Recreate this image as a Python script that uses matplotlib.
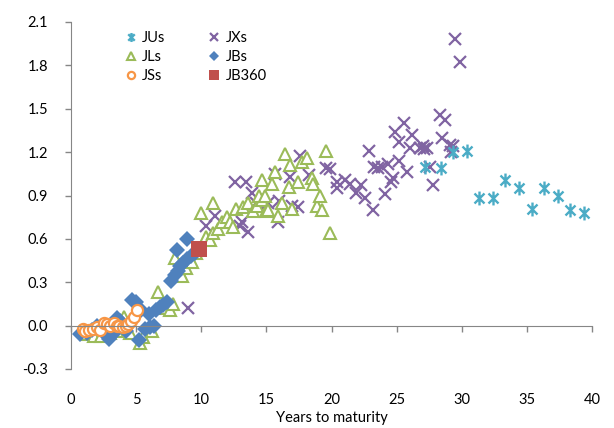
import matplotlib
matplotlib.use("Agg")
import matplotlib.pyplot as plt
from matplotlib.path import Path
import numpy as np

plt.rcParams['font.family'] = ['Lato', 'DejaVu Sans']

# ---- data ----
jus_x = [27.2, 28.4, 29.3, 30.4, 31.3, 32.4, 33.3, 34.4, 35.4, 36.3, 37.4, 38.3, 39.4]
jus_y = [1.10, 1.09, 1.20, 1.21, 0.88, 0.88, 1.01, 0.95, 0.81, 0.95, 0.90, 0.80, 0.78]

jxs_x = [9.0, 10.4, 11.05, 12.6, 13.4, 13.0, 13.6, 13.9, 13.1, 14.2, 15.1, 15.7, 15.9, 16.0,
         16.8, 17.0, 17.4, 17.6, 18.3, 19.6, 19.9, 20.4, 20.4, 21.0, 21.4, 21.9, 22.3, 22.6,
         22.9, 23.2, 23.3, 23.6, 23.9, 24.1, 24.3, 24.6, 24.7, 24.9, 25.2, 25.2, 25.6, 25.8,
         26.0, 26.2, 26.8, 27.0, 27.1, 27.3, 27.6, 27.8, 28.3, 28.5, 28.7, 29.1, 29.2, 29.3,
         29.5, 29.9]
jxs_y = [0.12, 0.69, 0.76, 0.99, 0.99, 0.69, 0.65, 0.92, 0.72, 0.85, 0.85, 1.05, 0.72, 0.86,
         1.03, 0.83, 0.82, 1.17, 1.04, 1.09, 1.08, 0.99, 0.95, 1.01, 0.98, 0.92, 0.97, 0.88,
         1.21, 0.80, 1.10, 1.09, 1.10, 0.91, 1.12, 0.99, 1.02, 1.34, 1.27, 1.14, 1.40, 1.06,
         1.23, 1.32, 1.23, 1.24, 1.22, 1.23, 1.10, 0.97, 1.46, 1.30, 1.42, 1.25, 1.20, 1.24,
         1.98, 1.82]

jls_x = [1.2, 1.8, 2.3, 3.0, 3.5, 4.1, 4.5, 5.3, 5.5, 6.2, 6.7, 7.2, 7.6, 7.8, 8.0, 8.3,
         8.5, 8.8, 9.3, 9.6, 10.0, 10.4, 10.7, 10.9, 10.9, 11.3, 11.6, 12.0, 12.2, 12.4, 12.7,
         13.2, 13.6, 14.0, 14.3, 14.7, 14.4, 14.9, 14.7, 15.0, 15.1, 15.4, 15.7, 15.9, 16.2,
         16.4, 16.7, 16.8, 17.0, 17.4, 17.7, 18.1, 18.5, 18.6, 18.9, 19.1, 19.3, 19.6, 19.9]
jls_y = [-0.06, -0.07, -0.07, -0.05, -0.04, 0.06, -0.05, -0.12, -0.08, -0.04, 0.23, 0.12,
         0.11, 0.15, 0.47, 0.38, 0.34, 0.40, 0.44, 0.50, 0.78, 0.61, 0.59, 0.64, 0.85, 0.67,
         0.72, 0.75, 0.72, 0.68, 0.81, 0.82, 0.85, 0.79, 0.83, 0.87, 0.90, 0.90, 1.01, 0.79,
         0.80, 0.98, 1.06, 0.76, 0.85, 1.19, 0.96, 1.11, 0.81, 0.99, 1.13, 1.16, 1.02, 0.98,
         0.83, 0.90, 0.80, 1.21, 0.64]

jbs_x = [0.7, 1.2, 1.6, 2.0, 2.4, 2.9, 3.2, 3.5, 3.8, 4.2, 4.7, 5.0, 5.2, 5.4, 5.7, 6.0,
         6.1, 6.4, 6.5, 6.8, 7.1, 7.4, 7.7, 8.0, 8.2, 8.4, 8.6, 8.9, 9.2, 9.5, 8.1, 8.9]
jbs_y = [-0.06, -0.05, -0.03, 0.00, -0.04, -0.09, -0.06, 0.05, 0.03, -0.04, 0.18, 0.16,
         -0.10, 0.11, -0.02, 0.08, -0.01, 0.00, 0.11, 0.13, 0.14, 0.16, 0.31, 0.35, 0.38,
         0.41, 0.43, 0.46, 0.48, 0.50, 0.52, 0.60]

jss_x = [0.9, 1.1, 1.4, 1.7, 2.0, 2.2, 2.5, 2.8, 3.0, 3.3, 3.5, 3.7, 4.0, 4.2, 4.4, 4.6,
         4.8, 5.1]
jss_y = [-0.02, -0.04, -0.03, -0.02, -0.01, -0.03, 0.02, 0.01, 0.00, 0.02, 0.00, 0.00,
         -0.01, 0.00, 0.01, 0.03, 0.06, 0.11]

jb360_x = [9.8]
jb360_y = [0.53]

x_ticks = [0, 5, 10, 15, 20, 25, 30, 35, 40]
y_ticks = [-0.3, 0.0, 0.3, 0.6, 0.9, 1.2, 1.5, 1.8, 2.1]

c_ju = '#4BACC6'
c_jx = '#8064A2'
c_jl = '#9BBB59'
c_jb = '#4F81BD'
c_js = '#F79646'
c_j360 = '#C0504D'

star = Path([(0, -1), (0, 1), (-0.72, -0.72), (0.72, 0.72), (-0.72, 0.72), (0.72, -0.72)],
            [Path.MOVETO, Path.LINETO, Path.MOVETO, Path.LINETO, Path.MOVETO, Path.LINETO])

fig = plt.figure(figsize=(6.14, 4.28), dpi=100)
ax = fig.add_axes([71/614, 1 - 369/428, 521/614, 347/428])

h_jx, = ax.plot(jxs_x, jxs_y, ls='none', marker='x', ms=8.5, mew=1.6, color=c_jx, label='JXs')
h_ju, = ax.plot(jus_x, jus_y, ls='none', marker=star, ms=10, mew=1.7, color=c_ju, label='JUs')
h_jl, = ax.plot(jls_x, jls_y, ls='none', marker='^', ms=9, mew=1.5, mfc='white', mec=c_jl,
                color=c_jl, label='JLs')
h_jb, = ax.plot(jbs_x, jbs_y, ls='none', marker='D', ms=8.3, mew=0, color=c_jb, label='JBs')
h_js, = ax.plot(jss_x, jss_y, ls='none', marker='o', ms=8, mew=1.6, mfc='white', mec=c_js,
                color=c_js, label='JSs')
h_j3, = ax.plot(jb360_x, jb360_y, ls='none', marker='s', ms=11, mew=0, color=c_j360, label='JB360')

ax.set_xlim(0, 40)
ax.set_ylim(-0.3, 2.1)
ax.set_xticks(x_ticks)
ax.set_yticks(y_ticks)
ax.set_yticklabels([f'{v:.1f}' for v in y_ticks])

for s in ['top', 'right']:
    ax.spines[s].set_visible(False)
ax.spines['bottom'].set_position(('data', 0))
ax.spines['bottom'].set_color('#868686')
ax.spines['left'].set_color('#868686')
ax.spines['left'].set_position(('data', 0))

ax_h_pt = (347/428) * 4.28 * 72
pad_x = (0 - (-0.3)) / 2.4 * ax_h_pt + 17 - 4.5
ax.tick_params(axis='x', direction='out', length=4.5, width=1, color='#868686',
               labelsize=10.5, pad=pad_x)
ax.tick_params(axis='y', direction='out', length=4.5, width=1, color='#868686',
               labelsize=10.5, pad=12)
ax.set_xlabel('Years to maturity', fontsize=10.5, labelpad=3)

leg = ax.legend([h_ju, h_jl, h_js, h_jx, h_jb, h_j3],
                ['JUs', 'JLs', 'JSs', 'JXs', 'JBs', 'JB360'],
                ncol=2, loc='upper left', bbox_to_anchor=(0.078, 1.012), frameon=False,
                fontsize=10.5, handlelength=0.8, handletextpad=0.35, columnspacing=3.0,
                labelspacing=0.35, markerscale=0.65)

fig.savefig('out.png', dpi=100)
